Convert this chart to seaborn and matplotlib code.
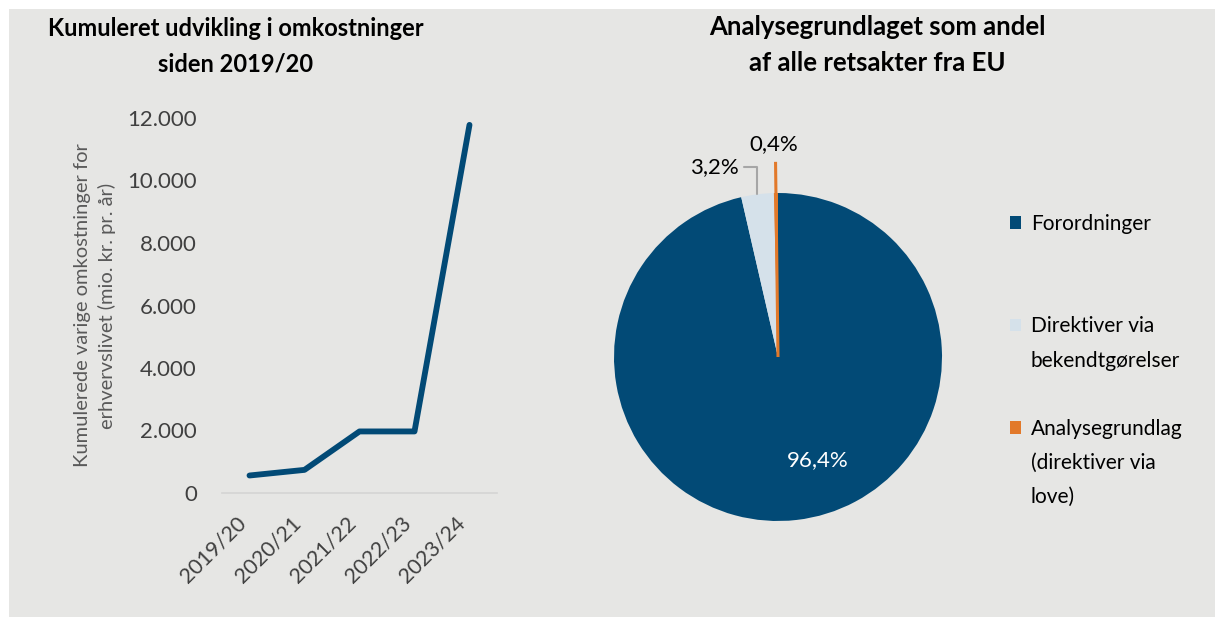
import matplotlib
matplotlib.use("Agg")
import matplotlib.pyplot as plt
import seaborn as sns
import pandas as pd
import numpy as np
from matplotlib.patches import Patch, Rectangle
from matplotlib.ticker import FuncFormatter

# data
years = ["2019/20", "2020/21", "2021/22", "2022/23", "2023/24"]
costs = [560, 740, 1970, 1970, 11780]

pie_labels = ["Forordninger",
              "Direktiver via\nbekendtgørelser",
              "Analysegrundlag\n(direktiver via\nlove)"]
pie_shares = [96.4, 3.2, 0.4]

# colours
dark_blue = "#024a76"
light_blue = "#d5e1ea"
orange = "#e2792a"
bg = "#e6e6e4"
text_col = "#404040"
pie_colors = [dark_blue, light_blue, orange]

sns.set_theme(style="white")
plt.rcParams["font.family"] = ["Lato", "DejaVu Sans"]

W, H = 1215, 617
fig = plt.figure(figsize=(W / 100, H / 100), dpi=100)
fig.patch.set_facecolor("white")
fig.patches.append(Rectangle((9 / W, 0), 1, 1 - 9 / H, transform=fig.transFigure,
                             facecolor=bg, edgecolor="none", zorder=-10))


def px_axes(left, top, right, bottom):
    return fig.add_axes([left / W, 1 - bottom / H, (right - left) / W, (bottom - top) / H])


def fmt_pct(v):
    return f"{v:.1f}%".replace(".", ",")


# ---------- venstre: linjediagram ----------
ax1 = px_axes(222, 118, 497, 493)
ax1.set_facecolor("none")
df = pd.DataFrame({"year": years, "cost": costs})
sns.lineplot(data=df, x="year", y="cost", ax=ax1, color=dark_blue,
             linewidth=4.2, sort=False, clip_on=False)
ax1.set_xlim(-0.5, len(years) - 0.5)
ax1.set_ylim(0, 12000)
ax1.set_yticks(range(0, 12001, 2000))
ax1.yaxis.set_major_formatter(FuncFormatter(lambda v, _: f"{v:,.0f}".replace(",", ".")))
for s in ["top", "right", "left"]:
    ax1.spines[s].set_visible(False)
ax1.spines["bottom"].set_color("#d4d4d4")
ax1.spines["bottom"].set_linewidth(1.2)
ax1.tick_params(axis="y", length=0, pad=18, labelsize=16, labelcolor=text_col)
ax1.tick_params(axis="x", length=0, pad=14, labelsize=15.5, labelcolor=text_col)
plt.setp(ax1.get_xticklabels(), rotation=45, ha="right")
ax1.set_xlabel("")
ax1.set_ylabel("Kumulerede varige omkostninger for\nerhvervslivet (mio. kr. pr. år)",
               fontsize=14.5, color="#595959", labelpad=8, linespacing=1.45)

# titler
fig.text(236 / W, 1 - 17 / H, "Kumuleret udvikling i omkostninger\nsiden 2019/20",
         ha="center", va="top", fontsize=17, fontweight="bold", color="black",
         linespacing=1.65)
fig.text(877 / W, 1 - 15 / H, "Analysegrundlaget som andel\naf alle retsakter fra EU",
         ha="center", va="top", fontsize=18.5, fontweight="bold", color="black",
         linespacing=1.6)

# ---------- højre: lagkage ----------
R = 164
cx, cy = 778, 357
ax2 = px_axes(cx - 1.3 * R, cy - 1.3 * R, cx + 1.3 * R, cy + 1.3 * R)
ax2.set_facecolor("none")
wedges, _ = ax2.pie(pie_shares, colors=pie_colors, startangle=90, counterclock=False,
                    radius=1, wedgeprops=dict(linewidth=0))
ax2.set_xlim(-1.3, 1.3)
ax2.set_ylim(-1.3, 1.3)
ax2.set_aspect("equal")

ax2.text(0.24, -0.63, fmt_pct(pie_shares[0]), ha="center", va="center",
         fontsize=16, color="white")

mid_light = np.deg2rad((wedges[1].theta1 + wedges[1].theta2) / 2)
ax2.annotate(fmt_pct(pie_shares[1]), xy=(np.cos(mid_light), np.sin(mid_light)),
             xytext=(-0.39, 1.16), ha="center", va="center", fontsize=16, color="black",
             arrowprops=dict(arrowstyle="-", color="#a6a6a6", lw=1.5, shrinkA=2, shrinkB=0,
                             connectionstyle="angle,angleA=0,angleB=90,rad=0"))

mid_or = np.deg2rad((wedges[2].theta1 + wedges[2].theta2) / 2)
ax2.plot([0, 1.19 * np.cos(mid_or)], [0, 1.19 * np.sin(mid_or)], color=orange,
         lw=2.2, solid_capstyle="butt", clip_on=False)
ax2.text(-0.025, 1.30, fmt_pct(pie_shares[2]), ha="center", va="center",
         fontsize=16, color="black")

# legende: hver post fylder tre linjer
handles, labels = [], []
for name, col in zip(pie_labels, pie_colors):
    lines = name.split("\n")
    lines += [""] * (3 - len(lines))
    for i, ln in enumerate(lines):
        handles.append(Patch(facecolor=col if i == 0 else "none", edgecolor="none"))
        labels.append(ln)
leg = fig.legend(handles, labels, loc="upper left", bbox_to_anchor=(1010 / W, 1 - 214 / H),
                 frameon=False, fontsize=15, borderpad=0, borderaxespad=0,
                 handlelength=0.55, handleheight=0.55, handletextpad=0.45,
                 labelspacing=0.68)
for t in leg.get_texts():
    t.set_color("black")

fig.savefig("out.png", dpi=100, facecolor=fig.get_facecolor())
